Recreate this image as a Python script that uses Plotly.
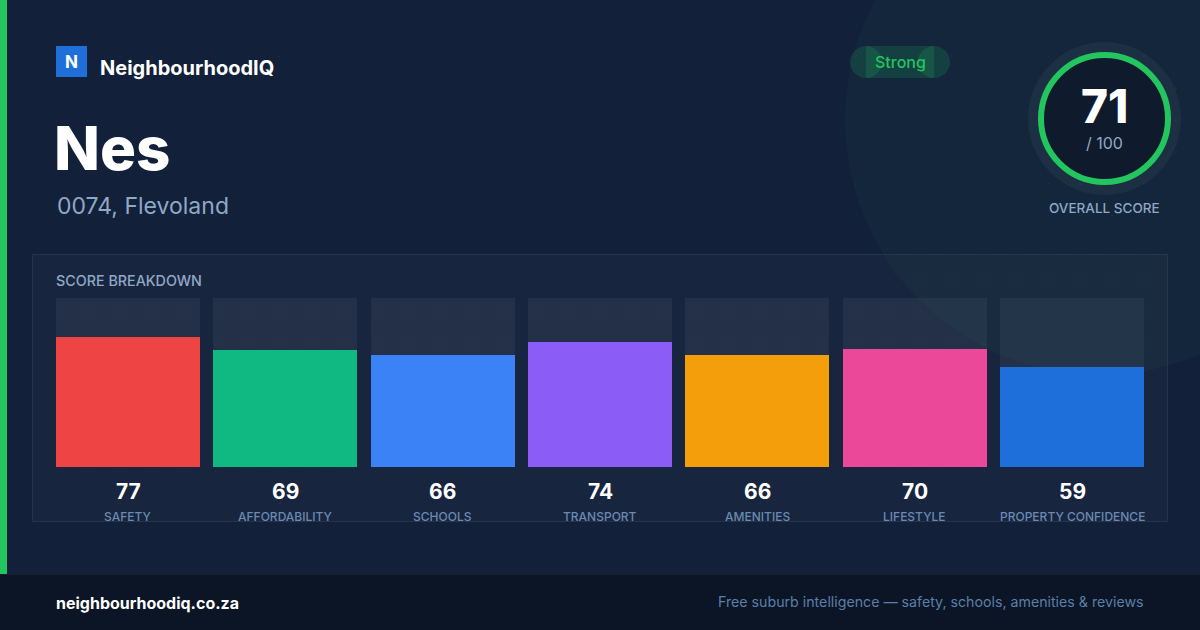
import plotly.graph_objects as go

# ---- data ----
categories = ["SAFETY", "AFFORDABILITY", "SCHOOLS", "TRANSPORT", "AMENITIES", "LIFESTYLE", "PROPERTY CONFIDENCE"]
scores = [77, 69, 66, 74, 66, 70, 59]
bar_colors = ["#ef4444", "#10b981", "#3b82f6", "#8b5cf6", "#f59e0b", "#ec4899", "#1e6fd9"]
max_score = [100] * len(categories)
overall_score = 71
overall_max = 100
suburb = "Nes"
region = "0074, Flevoland"
rating = "Strong"
brand = "NeighbourhoodIQ"
site = "neighbourhoodiq.co.za"
tagline = "Free suburb intelligence \u2014 safety, schools, amenities & reviews"

W, H = 1200, 630
FONT = "Inter"
BG = "#13203a"

fig = go.Figure()

# faint dot grid (decoration) on pixel axis
dx, dy = [], []
for gx in range(24, W, 32):
    for gy in range(24, 574, 32):
        dx.append(gx)
        dy.append(gy)
fig.add_trace(go.Scatter(x=dx, y=dy, mode="markers", xaxis="x", yaxis="y",
                         marker=dict(size=2.2, color="rgba(255,255,255,0.06)"),
                         hoverinfo="skip", showlegend=False))

# bars: tracks + fills
bar_w = 144 / (157.333)
fig.add_trace(go.Bar(x=categories, y=max_score, xaxis="x2", yaxis="y2",
                     marker=dict(color="rgba(255,255,255,0.05)", line=dict(width=0)),
                     width=bar_w, hoverinfo="skip", showlegend=False))
fig.add_trace(go.Bar(x=categories, y=scores, xaxis="x2", yaxis="y2",
                     marker=dict(color=bar_colors, line=dict(width=0)),
                     width=bar_w, hoverinfo="skip", showlegend=False))

shapes = []
# background
shapes.append(dict(type="rect", xref="x", yref="y", x0=0, x1=W, y0=0, y1=H,
                   fillcolor=BG, line=dict(width=0), layer="below"))
# big decorative circle
cx, cy, r = 1100, 120, 255
shapes.append(dict(type="circle", xref="x", yref="y", x0=cx - r, x1=cx + r, y0=cy - r, y1=cy + r,
                   fillcolor="rgba(34,197,94,0.045)", line=dict(width=0), layer="below"))
# panel
shapes.append(dict(type="rect", xref="x", yref="y", x0=32.5, x1=1167.5, y0=254.5, y1=521.5,
                   fillcolor="rgba(255,255,255,0.022)", line=dict(color="rgba(255,255,255,0.08)", width=1),
                   layer="below"))
# footer
shapes.append(dict(type="rect", xref="x", yref="y", x0=0, x1=W, y0=574, y1=H,
                   fillcolor="#0b1526", line=dict(width=0), layer="below"))
shapes.append(dict(type="line", xref="x", yref="y", x0=0, x1=W, y0=574.5, y1=574.5,
                   line=dict(color="rgba(255,255,255,0.05)", width=1), layer="below"))
# left green stripe
shapes.append(dict(type="rect", xref="x", yref="y", x0=0, x1=7, y0=0, y1=574,
                   fillcolor="#22c55e", line=dict(width=0), layer="below"))
# logo square
shapes.append(dict(type="rect", xref="x", yref="y", x0=56, x1=87, y0=46, y1=77,
                   fillcolor="#1f6fd8", line=dict(width=0), layer="above"))
# badge pill
pill = "rgba(34,197,94,0.17)"
shapes.append(dict(type="rect", xref="x", yref="y", x0=866, x1=934, y0=46, y1=78,
                   fillcolor=pill, line=dict(width=0), layer="above"))
for pcx in (866, 934):
    shapes.append(dict(type="circle", xref="x", yref="y", x0=pcx - 16, x1=pcx + 16, y0=46, y1=78,
                       fillcolor=pill, line=dict(width=0), layer="above"))
# gauge
gx, gy = 1104.5, 118.5
shapes.append(dict(type="circle", xref="x", yref="y", x0=gx - 76.5, x1=gx + 76.5, y0=gy - 76.5, y1=gy + 76.5,
                   fillcolor="rgba(255,255,255,0.045)", line=dict(width=0), layer="above"))
shapes.append(dict(type="circle", xref="x", yref="y", x0=gx - 63.5, x1=gx + 63.5, y0=gy - 63.5, y1=gy + 63.5,
                   fillcolor="#0f1a2c", line=dict(color="#22c55e", width=6), layer="above"))

ann = []
def txt(x, y, s, size, color, weight="normal", xanchor="left", xref="x", yref="y", pad=1):
    ann.append(dict(x=x, y=y, xref=xref, yref=yref, text=s, showarrow=False,
                    xanchor=xanchor, yanchor="middle", borderpad=pad,
                    font=dict(family=FONT, size=size, color=color, weight=weight)))

txt(71.5, 62, "N", 17, "#ffffff", "bold", "center")
txt(98, 68, brand, 20, "#ffffff", "bold")
txt(52, 148, suburb, 60, "#ffffff", 800)
txt(55, 206, region, 23, "#8fa8c6")
txt(900, 62, rating, 16, "#22c55e", 500, "center")
txt(gx, 106, str(overall_score), 46, "#ffffff", 800, "center", pad=0)
txt(gx, 143, f"/ {overall_max}", 16, "#94a9c2", "normal", "center", pad=0)
txt(gx, 208, "OVERALL SCORE", 13.5, "#8fa8c6", 500, "center")
txt(54, 280, "SCORE BREAKDOWN", 14.3, "#8fa8c6", 500)
for c, v in zip(categories, scores):
    ann.append(dict(x=c, y=491, xref="x2", yref="y", text=str(v), showarrow=False,
                    xanchor="center", yanchor="middle",
                    font=dict(family=FONT, size=21, color="#ffffff", weight="bold")))
    ann.append(dict(x=c, y=516, xref="x2", yref="y", text=c, showarrow=False,
                    xanchor="center", yanchor="middle",
                    font=dict(family=FONT, size=12, color="#6a8ab2", weight=500)))
txt(54, 603, site, 16, "#ffffff", "bold")
txt(1146, 602, tagline, 14.2, "#5b7fa8", "normal", "right")

fig.update_layout(
    width=W, height=H, margin=dict(l=0, r=0, t=0, b=0),
    paper_bgcolor=BG, plot_bgcolor="rgba(0,0,0,0)",
    barmode="overlay", bargap=0, showlegend=False,
    xaxis=dict(domain=[0, 1], range=[0, W], visible=False, fixedrange=True),
    yaxis=dict(domain=[0, 1], range=[H, 0], visible=False, fixedrange=True),
    xaxis2=dict(domain=[56 / W, 1144 / W], range=[-bar_w / 2, 6 + bar_w / 2], visible=False,
                anchor="y2", type="category"),
    yaxis2=dict(domain=[1 - 467 / H, 1 - 298 / H], range=[0, 100], visible=False, anchor="x2"),
    shapes=shapes, annotations=ann,
)

fig.write_html("out.html", config={"displayModeBar": False},
               post_script="document.body.style.margin='0px';document.body.style.background='#13203a';")
